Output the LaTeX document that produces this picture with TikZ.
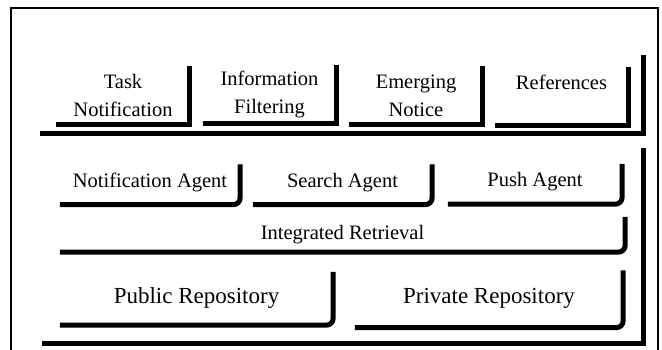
\documentclass[tikz,border=0pt]{standalone}
\usepackage{fontspec}
\setmainfont{Liberation Serif}
\begin{document}
\begin{tikzpicture}
		[	x=1pt,y=-1pt,
		card/.style={draw=none,inner sep=0pt,minimum width=133pt,minimum height=58pt,align=center,font=\fontsize{20.5}{28}\selectfont},
		agent/.style={draw=none,inner sep=0pt,minimum height=40pt,text depth=9pt,font=\fontsize{20.5}{24}\selectfont},
		store/.style={draw=none,inner sep=0pt,text depth=6pt,font=\fontsize{23}{26}\selectfont},
		layer/.style={draw=none,inner sep=0pt},
		edge/.style={line width=5pt},
		soft/.style={line width=5pt,rounded corners=7pt}
		]
		\useasboundingbox (0,0) rectangle (662,349);
		\draw[line width=1.3pt] (11,8) rectangle (658,352);

		% top layer
		\node[layer,minimum width=603pt,minimum height=78pt] (toplayer) at (341.5,94){};
		\node[card] (task) at (123,95){Task\\Notification};
		\node[card] (filter) at (269.5,94){Information\\Filtering};
		\node[card] (emerge) at (416,95.5){Emerging\\Notice};
		\node[card] (refs) at (561.5,96){References\\\mbox{}};

		\draw[edge] (task.north east) |- (task.south west);
		\draw[edge] (filter.north east) |- (filter.south west);
		\draw[edge] (emerge.north east) |- (emerge.south west);
		\draw[edge] (refs.north east) |- (refs.south west);
		\draw[edge] (toplayer.north east) |- (toplayer.south west);

		% lower layer
		\node[layer,minimum width=601pt,minimum height=195pt] (lowlayer) at (342.5,245.5){};
		\node[agent,minimum width=180pt] (notify) at (150,184.5){Notification Agent};
		\node[agent,minimum width=179pt] (search) at (342.5,184.5){Search Agent};
		\node[agent,minimum width=174pt] (push) at (535,184){Push Agent};
		\node[agent,text depth=4.5pt,minimum width=565pt,minimum height=35pt] (retrieval) at (342.5,234.5){Integrated Retrieval};
		\node[store,minimum width=273pt,minimum height=53pt] (public) at (196.5,298.5){Public Repository};
		\node[store,minimum width=268pt,minimum height=57pt] (private) at (489,299){Private Repository};

		\draw[soft] (notify.north east) |- (notify.south west);
		\draw[soft] (search.north east) |- (search.south west);
		\draw[soft] (push.north east) |- (push.south west);
		\draw[soft] (retrieval.north east) |- (retrieval.south west);
		\draw[soft] (public.north east) |- (public.south west);
		\draw[soft] (private.north east) |- (private.south west);
		\draw[edge] (lowlayer.north east) |- (lowlayer.south west);
	\end{tikzpicture}
\end{document}
